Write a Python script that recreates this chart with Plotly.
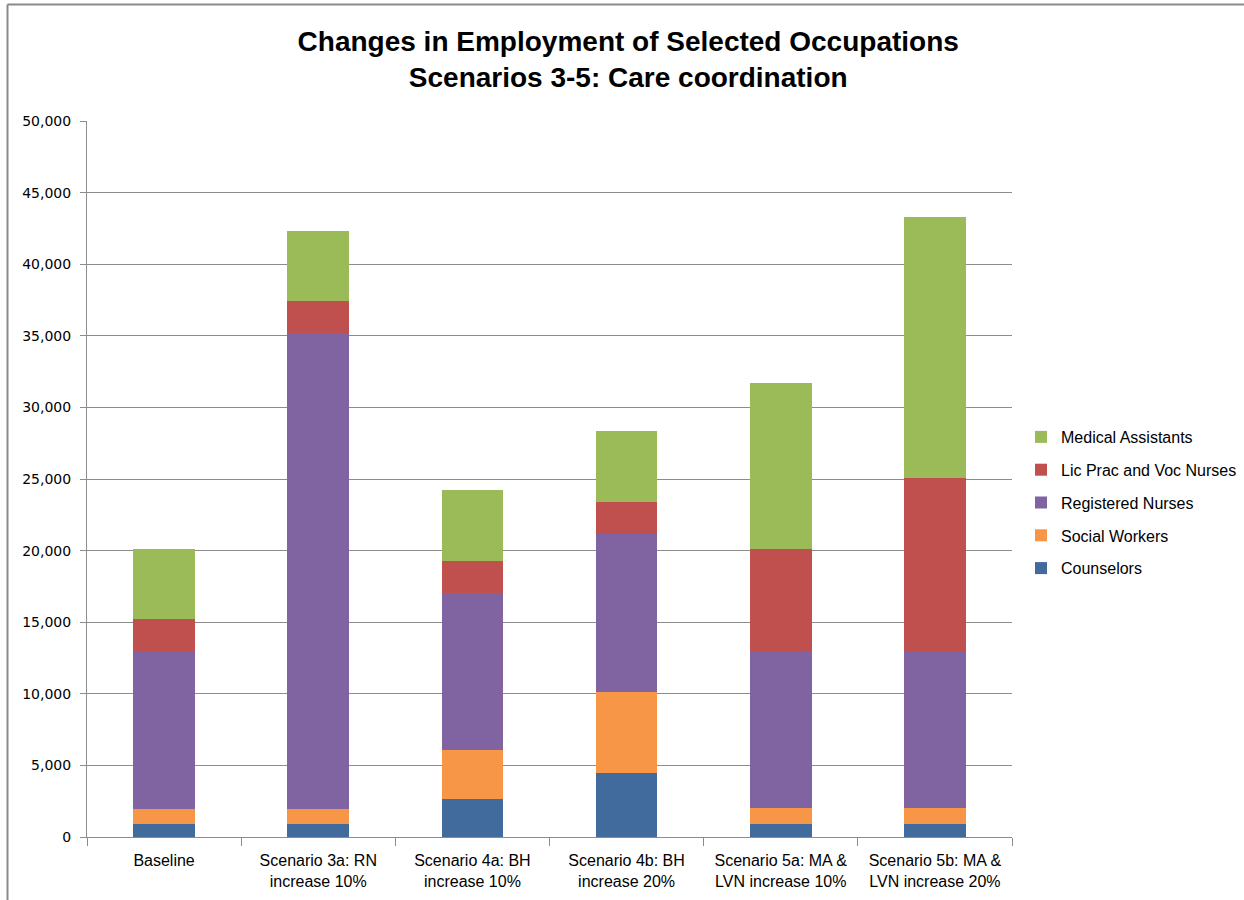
import plotly.graph_objects as go

categories = ["Baseline", "Scenario 3a: RN<br>increase 10%", "Scenario 4a: BH<br>increase 10%",
              "Scenario 4b: BH<br>increase 20%", "Scenario 5a: MA &<br>LVN increase 10%",
              "Scenario 5b: MA &<br>LVN increase 20%"]

counselors = [880, 880, 2640, 4490, 900, 900]
social_workers = [1080, 1100, 3440, 5650, 1120, 1120]
registered_nurses = [11020, 33220, 10970, 11050, 10950, 10950]
lic_prac_voc_nurses = [2220, 2200, 2220, 2190, 7110, 12070]
medical_assistants = [4900, 4910, 4930, 4980, 11610, 18240]

series = [
    ("Counselors", counselors, "#416A9D"),
    ("Social Workers", social_workers, "#F79646"),
    ("Registered Nurses", registered_nurses, "#8064A2"),
    ("Lic Prac and Voc Nurses", lic_prac_voc_nurses, "#C0504D"),
    ("Medical Assistants", medical_assistants, "#9BBB59"),
]

fig = go.Figure()
n = len(series)
for i, (name, vals, color) in enumerate(series):
    fig.add_trace(go.Bar(x=categories, y=vals, name=name, marker_color=color,
                         marker_line_width=0, legendgroup=name, legendrank=n - i))

L, R, T, B = 87, 1012, 121, 837
W, H = 1244, 900

def px(xp):
    return (xp - L) / (R - L)

def py(yp):
    return (B - yp) / (B - T)

fig.update_layout(
    width=W, height=H,
    margin=dict(l=L, r=W - R, t=T, b=H - B, pad=0, autoexpand=False),
    paper_bgcolor="white", plot_bgcolor="white",
    barmode="stack", bargap=0.6,
    font=dict(family="Liberation Sans, Arial, sans-serif", color="#000000", size=15),
    title=dict(text="<b>Changes in Employment of Selected Occupations<br>Scenarios 3-5: Care coordination</b>",
               x=0.505, xanchor="center", y=1 - 51 / H, yanchor="middle",
               font=dict(family="Liberation Sans, Arial, sans-serif", size=28, color="#000000")),
    legend=dict(xref="container", yref="container", x=1021 / W, y=1 - 420 / H,
                xanchor="left", yanchor="top",
                traceorder="grouped", tracegroupgap=9,
                font=dict(family="Liberation Sans, sans-serif", size=16, color="#000000"),
                itemwidth=30),
    showlegend=True,
)

fig.update_yaxes(range=[0, 50000], tickvals=list(range(0, 50001, 5000)), tickformat=",d",
                 showgrid=True, gridcolor="#8C8C8C", gridwidth=1,
                 showline=True, linecolor="#8C8C8C", linewidth=1,
                 ticks="outside", ticklen=6, tickcolor="#8C8C8C",
                 tickfont=dict(family="DejaVu Sans, Verdana, sans-serif", size=14, color="#000000"),
                 ticklabelstandoff=6,
                 zeroline=False)
fig.update_xaxes(showline=True, linecolor="#8C8C8C", linewidth=1,
                 ticks="outside", ticklen=8, tickcolor="#8C8C8C", tickson="boundaries",
                 tickfont=dict(family="Liberation Sans, sans-serif", size=16, color="#000000"),
                 ticklabelstandoff=9,
                 showgrid=False)

# chart border (top and left visible)
fig.add_shape(type="line", xref="paper", yref="paper", x0=px(7.5), x1=px(1260), y0=py(4.5), y1=py(4.5),
              line=dict(color="#8A8A8A", width=2))
fig.add_shape(type="line", xref="paper", yref="paper", x0=px(7.5), x1=px(7.5), y0=py(4.5), y1=py(920),
              line=dict(color="#8A8A8A", width=2))

fig.write_html("out.html")
